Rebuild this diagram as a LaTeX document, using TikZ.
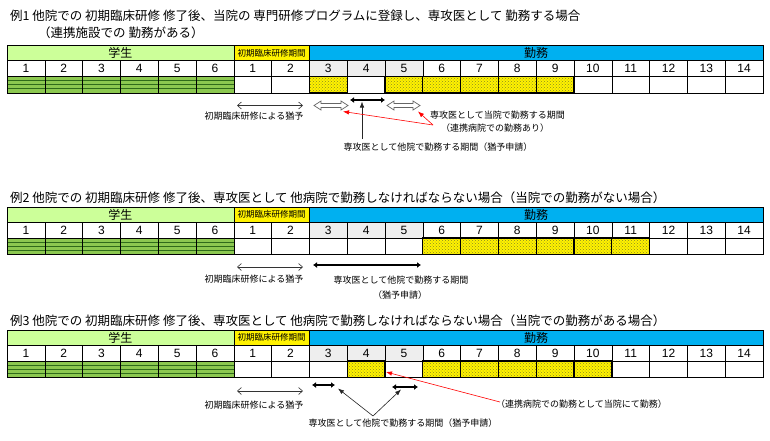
\documentclass[tikz,border=0pt]{standalone}
\usepackage{fontspec}
\setmainfont{Noto Sans CJK JP}
\newfontfamily\numfont{Liberation Sans}
\usetikzlibrary{arrows.meta,patterns}
\definecolor{hdrgreen}{HTML}{CCFF99}
\definecolor{hdrblue}{HTML}{00B0F0}
\definecolor{cellgray}{HTML}{EEEEEE}
\definecolor{stripelight}{HTML}{8CC850}
\definecolor{stripedark}{HTML}{2F6B1A}
\definecolor{dotcol}{HTML}{8A8A20}
\tikzset{
  gridline/.style={draw=black, line width=0.6pt},
  yellowcell/.style={draw=black, line width=1.3pt},
  titletext/.style={font=\fontsize{12.5}{14}\selectfont, anchor=west, inner sep=0pt},
  hdrtext/.style={font=\fontsize{12}{14}\selectfont, inner sep=0pt},
  smallhdr/.style={font=\fontsize{8.5}{10}\selectfont, inner sep=0pt},
  notetext/.style={font=\fontsize{9}{11}\selectfont, inner sep=0pt},
  numtext/.style={font=\numfont\fontsize{12}{14}\selectfont, inner sep=0pt},
  thinarrow/.style={{Straight Barb[length=4pt,width=7pt]}-{Straight Barb[length=4pt,width=7pt]}, line width=0.6pt, draw=black!80},
  thickarrow/.style={{Latex[length=4pt,width=6pt]}-{Latex[length=4pt,width=6pt]}, line width=2pt},
  redarrow/.style={-{Latex[length=6pt,width=4.5pt]}, draw=red, line width=0.6pt},
  blackptr/.style={-{Latex[length=6pt,width=4.5pt]}, draw=black!85, line width=0.6pt},
  hollow/.style={fill=white, draw=black!60, line width=0.7pt},
}
% #1 top y, #2 yellow column indices (0-based), #3 name prefix
\newcommand\worktable[3]{%
  \pgfmathsetmacro\ya{#1}%
  \pgfmathsetmacro\yb{#1+15}%
  \pgfmathsetmacro\yc{#1+31}%
  \pgfmathsetmacro\yd{#1+47.5}%
  \pgfmathsetmacro\yh{#1+7.5}%
  \pgfmathsetmacro\yn{#1+23}%
  % header row
  \filldraw[fill=hdrgreen, gridline] (7,\ya) rectangle (233.8,\yb);
  \filldraw[fill=yellow, gridline] (233.8,\ya) rectangle (309.4,\yb);
  \filldraw[fill=hdrblue, gridline] (309.4,\ya) rectangle (763,\yb);
  \node[hdrtext] (#3h1) at (120.4,\yh) {学生};
  \node[smallhdr] (#3h2) at (271.6,\yh) {初期臨床研修期間};
  \node[hdrtext] (#3h3) at (536.2,\yh) {勤務};
  % number row and bottom row
  \foreach \i in {0,...,19}{
    \pgfmathsetmacro\xl{7+37.8*\i}
    \pgfmathsetmacro\xr{7+37.8*(\i+1)}
    \pgfmathsetmacro\xm{7+37.8*(\i+0.5)}
    \pgfmathtruncatemacro\lab{\i<6 ? \i+1 : \i-5}
    \pgfmathtruncatemacro\isgray{(\i>7 && \i<11) ? 1 : 0}
    \ifnum\isgray=1
      \filldraw[fill=cellgray, gridline] (\xl,\yb) rectangle (\xr,\yc);
    \else
      \filldraw[fill=white, gridline] (\xl,\yb) rectangle (\xr,\yc);
    \fi
    \node[numtext] (#3n\i) at (\xm,\yn) {\lab};
    \ifnum\i<6
      \fill[stripelight] (\xl,\yc) rectangle (\xr,\yd);
      \foreach \k in {4,8,12}{
        \draw[stripedark, line width=1pt] (\xl,\yc+\k) -- (\xr,\yc+\k);
      }
      \draw[gridline] (\xl,\yc) rectangle (\xr,\yd);
    \else
      \filldraw[fill=white, gridline] (\xl,\yc) rectangle (\xr,\yd);
    \fi
  }
  \foreach \j in {#2}{
    \pgfmathsetmacro\xl{7+37.8*\j}
    \pgfmathsetmacro\xr{7+37.8*(\j+1)}
    \fill[yellow] (\xl,\yc) rectangle (\xr,\yd);
    \fill[pattern=crosshatch dots, pattern color=dotcol] (\xl,\yc) rectangle (\xr,\yd);
    \draw[yellowcell] (\xl,\yc) rectangle (\xr,\yd);
  }
}
% hollow double block arrow: #1 x1, #2 x2, #3 y
\newcommand\hollowarrow[3]{%
  \draw[hollow] (#1,#3) -- ({#1+7},{#3-4.5}) -- ({#1+7},{#3-2}) -- ({#2-7},{#3-2})
    -- ({#2-7},{#3-4.5}) -- (#2,#3) -- ({#2-7},{#3+4.5}) -- ({#2-7},{#3+2})
    -- ({#1+7},{#3+2}) -- ({#1+7},{#3+4.5}) -- cycle;
}
\begin{document}
\begin{tikzpicture}[x=1pt,y=-1pt]
\useasboundingbox[fill=white] (0,0) rectangle (770,440);

% ---------------- Example 1 ----------------
\node[titletext] (t1) at (10,16) {例1 他院での 初期臨床研修 修了後、当院の 専門研修プログラムに登録し、専攻医として 勤務する場合};
\node[titletext] (t1b) at (38,33) {（連携施設での 勤務がある）};
\worktable{45.5}{8,10,11,12,13,14}{a}

\coordinate (a-tA) at (237,105.5);
\coordinate (a-tB) at (303,105.5);
\draw[thinarrow] (a-tA) -- (a-tB);
\node[notetext] (a-l1) at (254,116) {初期臨床研修による猶予};

\hollowarrow{314}{348}{105.5}
\hollowarrow{387}{420}{105.5}

\coordinate (a-kA) at (350,100);
\coordinate (a-kB) at (385,100);
\draw[thickarrow] (a-kA) -- (a-kB);
\coordinate (a-vS) at (362,139);
\coordinate (a-vE) at (362,101.5);
\draw[blackptr] (a-vS) -- (a-vE);
\node[notetext] (a-l3) at (438,147.5) {専攻医として他院で勤務する期間（猶予申請）};

\node[notetext, anchor=west] (a-l2) at (430,115) {専攻医として当院で勤務する期間};
\node[notetext, anchor=west] (a-l2b) at (441,128.5) {（連携病院での勤務あり）};
\coordinate (a-rS) at (433,125);
\coordinate (a-rE1) at (343,111.5);
\coordinate (a-rE2) at (418,111.5);
\draw[redarrow] (a-rS) -- (a-rE1);
\draw[redarrow] (a-rS) -- (a-rE2);

% ---------------- Example 2 ----------------
\node[titletext] (t2) at (10,197.5) {例2 他院での 初期臨床研修 修了後、専攻医として 他病院で勤務しなければならない場合（当院での勤務がない場合）};
\worktable{207}{11,12,13,14,15,16}{b}

\coordinate (b-tA) at (237,267);
\coordinate (b-tB) at (303,267);
\draw[thinarrow] (b-tA) -- (b-tB);
\node[notetext] (b-l1) at (254,279.5) {初期臨床研修による猶予};
\coordinate (b-kA) at (313,265);
\coordinate (b-kB) at (421,265);
\draw[thickarrow] (b-kA) -- (b-kB);
\node[notetext] (b-l2) at (401,280.5) {専攻医として他院で勤務する期間};
\node[notetext] (b-l2b) at (400,295) {（猶予申請）};

% ---------------- Example 3 ----------------
\node[titletext] (t3) at (10,321) {例3 他院での 初期臨床研修 修了後、専攻医として 他病院で勤務しなければならない場合（当院での勤務がある場合）};
\worktable{330}{9,11,12,13,14,15}{c}

\coordinate (c-tA) at (237,391);
\coordinate (c-tB) at (303,391);
\draw[thinarrow] (c-tA) -- (c-tB);
\node[notetext] (c-l1) at (254,405) {初期臨床研修による猶予};
\coordinate (c-k1A) at (312,385);
\coordinate (c-k1B) at (335,385);
\draw[thickarrow] (c-k1A) -- (c-k1B);
\coordinate (c-k2A) at (392,387);
\coordinate (c-k2B) at (418,387);
\draw[thickarrow] (c-k2A) -- (c-k2B);
\coordinate (c-pS) at (373,416);
\coordinate (c-pE1) at (338,388.5);
\coordinate (c-pE2) at (401,389.5);
\draw[blackptr] (c-pS) -- (c-pE1);
\draw[blackptr] (c-pS) -- (c-pE2);
\node[notetext] (c-l2) at (403,423.5) {専攻医として他院で勤務する期間（猶予申請）};
\coordinate (c-rS) at (500,402);
\coordinate (c-rE) at (386,372);
\draw[redarrow] (c-rS) -- (c-rE);
\node[notetext, anchor=west] (c-l3) at (496,404) {（連携病院での勤務として当院にて勤務）};
\end{tikzpicture}
\end{document}
